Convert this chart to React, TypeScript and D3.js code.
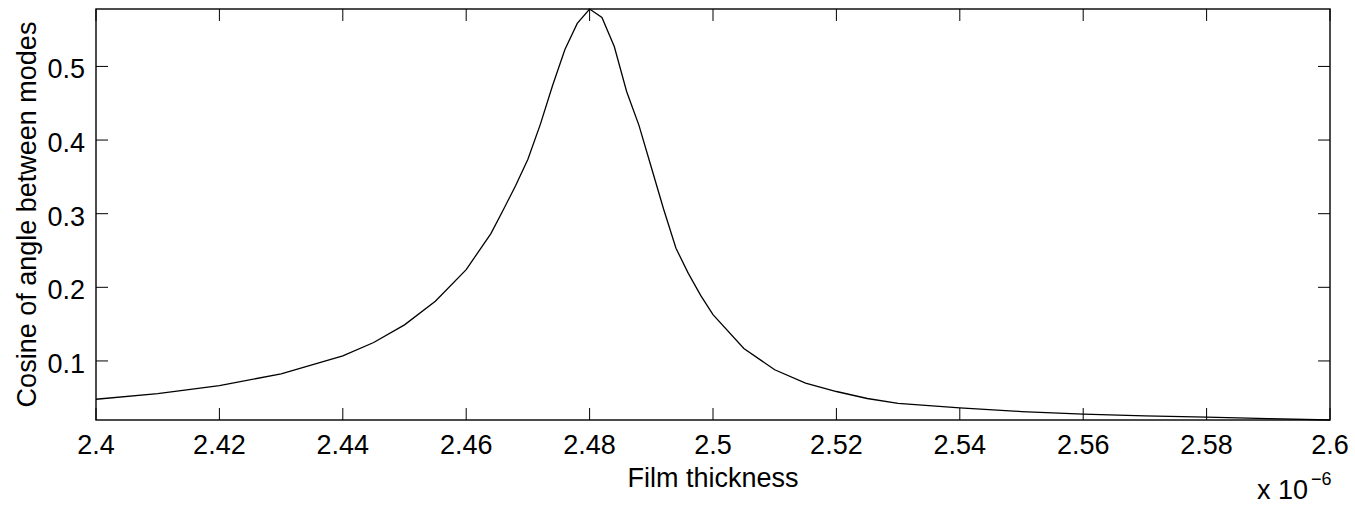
import React from "react";
import * as d3 from "d3";

// film thickness (x 1e-6) and cosine of angle between modes
const thickness = [
  2.4, 2.41, 2.42, 2.43, 2.44, 2.445, 2.45, 2.455, 2.46, 2.464, 2.466, 2.468,
  2.47, 2.472, 2.474, 2.476, 2.478, 2.48, 2.482, 2.484, 2.486, 2.488, 2.49,
  2.492, 2.494, 2.496, 2.498, 2.5, 2.505, 2.51, 2.515, 2.52, 2.525, 2.53,
  2.54, 2.55, 2.56, 2.57, 2.58, 2.59, 2.6,
];
const cosine = [
  0.048, 0.0555, 0.0665, 0.0825, 0.107, 0.125, 0.149, 0.181, 0.224, 0.273,
  0.305, 0.338, 0.374, 0.421, 0.474, 0.523, 0.5585, 0.578, 0.5665, 0.527,
  0.466, 0.42, 0.363, 0.306, 0.253, 0.219, 0.189, 0.163, 0.117, 0.088, 0.07,
  0.0585, 0.049, 0.0425, 0.0362, 0.0313, 0.0278, 0.0254, 0.0236, 0.0218, 0.0198,
];
const xTicks = [2.4, 2.42, 2.44, 2.46, 2.48, 2.5, 2.52, 2.54, 2.56, 2.58, 2.6];
const yTicks = [0.1, 0.2, 0.3, 0.4, 0.5];

const W = 1355;
const H = 506;
const left = 96;
const right = 1330;
const top = 9;
const bottom = 420;
const tickLen = 12;
const font = "'Liberation Sans', Arial, Helvetica, sans-serif";
const fs = 27;

export default function App() {
  const x = d3.scaleLinear().domain([2.4, 2.6]).range([left, right]);
  const y = d3
    .scaleLinear()
    .domain([d3.min(cosine) as number, d3.max(cosine) as number])
    .range([bottom, top]);

  const pts: [number, number][] = thickness.map((t, i) => [t, cosine[i]]);
  const line = d3
    .line<[number, number]>()
    .x((d) => x(d[0]))
    .y((d) => y(d[1]));

  return (
    <div style={{ position: "fixed", left: 0, top: 0 }}>
      <svg width={W} height={H} style={{ display: "block", background: "#fff" }}>
        <rect x={0} y={0} width={W} height={H} fill="#fff" />
        <path d={line(pts) || ""} fill="none" stroke="#000" strokeWidth={1.3} />

        {/* box */}
        <rect
          x={left}
          y={top}
          width={right - left}
          height={bottom - top}
          fill="none"
          stroke="#000"
          strokeWidth={1.4}
        />

        {/* x ticks */}
        {xTicks.map((t) => (
          <g key={"x" + t}>
            <line x1={x(t)} x2={x(t)} y1={bottom} y2={bottom - tickLen} stroke="#000" />
            <line x1={x(t)} x2={x(t)} y1={top} y2={top + tickLen} stroke="#000" />
            <text
              x={x(t)}
              y={454}
              textAnchor="middle"
              fontFamily={font}
              fontSize={fs}
              fill="#000"
            >
              {d3.format("~g")(t)}
            </text>
          </g>
        ))}

        {/* y ticks */}
        {yTicks.map((t) => (
          <g key={"y" + t}>
            <line x1={left} x2={left + tickLen} y1={y(t)} y2={y(t)} stroke="#000" />
            <line x1={right} x2={right - tickLen} y1={y(t)} y2={y(t)} stroke="#000" />
            <text
              x={85}
              y={y(t) + 12}
              textAnchor="end"
              fontFamily={font}
              fontSize={fs}
              fill="#000"
            >
              {t}
            </text>
          </g>
        ))}

        <text
          x={(left + right) / 2}
          y={487}
          textAnchor="middle"
          fontFamily={font}
          fontSize={fs}
          fill="#000"
        >
          Film thickness
        </text>

        <text
          transform={`translate(36,${(top + bottom) / 2}) rotate(-90)`}
          textAnchor="middle"
          fontFamily={font}
          fontSize={fs}
          fill="#000"
        >
          Cosine of angle between modes
        </text>

        <text x={1257} y={499} fontFamily={font} fontSize={fs} fill="#000">
          x 10
        </text>
        <text x={1311} y={485} fontFamily={font} fontSize={18} fill="#000">
          −6
        </text>
      </svg>
    </div>
  );
}
